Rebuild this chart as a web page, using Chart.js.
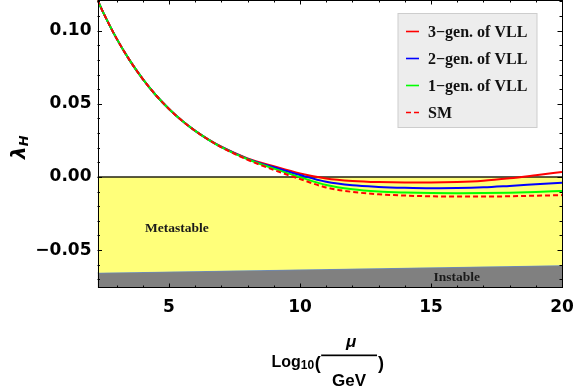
<!DOCTYPE html>
<html><head><meta charset="utf-8">
<script src="https://cdn.jsdelivr.net/npm/chart.js@4.4.0/dist/chart.umd.min.js"></script>
<style>html,body{margin:0;padding:0;background:#fff}</style>
</head><body>
<canvas id="c" width="576" height="389"></canvas>
<script>
// ---- data ----
const xMin = 2.27, xMax = 20;
const yMin = -0.0759, yMax = 0.121;
const xValues = [2.27, 2.5, 3, 3.5, 4, 4.5, 5, 5.5, 6, 6.5, 7, 8, 9, 10, 11, 12, 13, 14, 15, 16, 17, 18, 19, 20];
const gen3 = [0.121, 0.1120, 0.0946, 0.0797, 0.0669, 0.0559, 0.0465, 0.0384, 0.0315, 0.0257, 0.0207, 0.0127, 0.0073, 0.0024, -0.0010, -0.0027, -0.0035, -0.0038, -0.0038, -0.0035, -0.0026, -0.0009, 0.0012, 0.0034];
const gen2 = [0.121, 0.1120, 0.0946, 0.0797, 0.0669, 0.0559, 0.0465, 0.0384, 0.0315, 0.0256, 0.0205, 0.0124, 0.0066, 0.0013, -0.0033, -0.0057, -0.0068, -0.0074, -0.0077, -0.0076, -0.0071, -0.0061, -0.0050, -0.0039];
const gen1 = [0.121, 0.1120, 0.0946, 0.0797, 0.0669, 0.0559, 0.0465, 0.0384, 0.0315, 0.0256, 0.0204, 0.0121, 0.0057, -0.0001, -0.0055, -0.0084, -0.0099, -0.0106, -0.0110, -0.0111, -0.0110, -0.0107, -0.0102, -0.0095];
const smVals = [0.121, 0.1120, 0.0946, 0.0797, 0.0669, 0.0559, 0.0465, 0.0384, 0.0315, 0.0255, 0.0203, 0.0118, 0.0048, -0.0014, -0.0072, -0.0102, -0.0118, -0.0127, -0.0132, -0.0134, -0.0134, -0.0132, -0.0128, -0.0124];
const instableEdge = [-0.0655, -0.0604]; // at xMin, xMax
const xTicks = [5, 10, 15, 20];
const yTicks = [-0.05, 0, 0.05, 0.10];
const legendLabels = ['3\u2212gen. of VLL', '2\u2212gen. of VLL', '1\u2212gen. of VLL', 'SM'];
const regionLabels = [{text: 'Metastable', x: 5.3, y: -0.0355}, {text: 'Instable', x: 15.98, y: -0.0686}];

const pts = arr => xValues.map((x, i) => ({x, y: arr[i]}));
const lineDs = (label, arr, color, order, dash) => ({
  label, data: pts(arr), borderColor: color, borderWidth: 2, borderDash: dash || [],
  pointRadius: 0, cubicInterpolationMode: 'monotone', fill: false, order
});

const frameTicks = {
  id: 'frameTicks',
  afterDatasetsDraw(chart) {
    const {ctx, chartArea: a, scales: {x, y}} = chart;
    ctx.save();
    ctx.strokeStyle = '#000';
    ctx.lineWidth = 1;
    ctx.strokeRect(Math.round(a.left) + 0.5, Math.round(a.top) + 0.5, Math.round(a.right - a.left) - 1, Math.round(a.bottom - a.top) - 1);
    ctx.beginPath();
    for (let v = 3; v <= 19; v++) {
      const major = v % 5 === 0;
      const L = major ? 4.5 : 2.5;
      const px = Math.round(x.getPixelForValue(v)) + 0.5;
      ctx.moveTo(px, a.bottom); ctx.lineTo(px, a.bottom - L);
      ctx.moveTo(px, a.top); ctx.lineTo(px, a.top + L);
    }
    for (let k = -7; k <= 12; k++) {
      const v = k / 100;
      const major = k % 5 === 0;
      const L = major ? 4.5 : 2.5;
      const py = Math.round(y.getPixelForValue(v)) + 0.5;
      if (py < a.top || py > a.bottom) continue;
      ctx.moveTo(a.left, py); ctx.lineTo(a.left + L, py);
      ctx.moveTo(a.right, py); ctx.lineTo(a.right - L, py);
    }
    ctx.stroke();
    // region labels
    ctx.fillStyle = '#1a1a1a';
    ctx.font = 'bold 13.5px "Liberation Serif", serif';
    ctx.textAlign = 'center';
    ctx.textBaseline = 'middle';
    regionLabels.forEach(r => ctx.fillText(r.text, x.getPixelForValue(r.x), y.getPixelForValue(r.y)));
    ctx.restore();
  },
  afterDraw(chart) {
    const {ctx, chartArea: a} = chart;
    ctx.save();
    // legend
    const bx = a.right - 164, by = a.top + 13.5, bw = 139, bh = 114;
    ctx.fillStyle = '#ededed';
    ctx.fillRect(bx, by, bw, bh);
    ctx.strokeStyle = '#cdcdcd';
    ctx.lineWidth = 1;
    ctx.strokeRect(bx, by, bw, bh);
    const ds = [chart.data.datasets[3], chart.data.datasets[2], chart.data.datasets[1], chart.data.datasets[0]];
    ctx.font = 'bold 16px "Liberation Serif", serif';
    ctx.textAlign = 'left';
    ctx.textBaseline = 'middle';
    legendLabels.forEach((t, i) => {
      const yy = by + 18 + i * 27;
      ctx.strokeStyle = ds[i].borderColor;
      ctx.lineWidth = 1.6;
      ctx.setLineDash(i === 3 ? [5, 3] : []);
      ctx.beginPath(); ctx.moveTo(bx + 8, yy); ctx.lineTo(bx + 21, yy); ctx.stroke();
      ctx.setLineDash([]);
      ctx.fillStyle = '#111';
      ctx.fillText(t, bx + 30, yy + 1);
    });
    // y title: lambda_H
    ctx.fillStyle = '#000';
    ctx.save();
    ctx.translate(25, 159);
    ctx.rotate(-Math.PI / 2);
    ctx.textAlign = 'left';
    ctx.textBaseline = 'alphabetic';
    ctx.font = 'bold italic 20px "DejaVu Sans", sans-serif';
    ctx.fillText('\u03bb', 0, 0);
    const lw = ctx.measureText('\u03bb').width;
    ctx.font = 'bold italic 13px "DejaVu Sans", sans-serif';
    ctx.fillText('H', lw, 3);
    ctx.restore();
    // x title: Log10(mu/GeV)
    ctx.textBaseline = 'alphabetic';
    ctx.textAlign = 'left';
    let cx = 271.5;
    const base = 366.5;
    ctx.font = 'bold 16px "Liberation Sans", Arial, sans-serif';
    ctx.fillText('Log', cx, base); cx += ctx.measureText('Log').width;
    ctx.font = 'bold 12px "Liberation Sans", Arial, sans-serif';
    ctx.fillText('10', cx, base + 2); cx += ctx.measureText('10').width + 0.5;
    ctx.font = 'bold 18px "Liberation Sans", Arial, sans-serif';
    ctx.fillText('(', cx, base + 2); cx += ctx.measureText('(').width + 0.5;
    const fx0 = cx, fx1 = 377;
    ctx.fillRect(fx0, 354.5, fx1 - fx0, 1.7);
    const fc = (fx0 + fx1) / 2;
    ctx.textAlign = 'center';
    ctx.font = 'bold italic 17px "Liberation Sans", Arial, sans-serif';
    ctx.fillText('\u03bc', fc + 2, 347);
    ctx.font = 'bold 17px "Liberation Sans", Arial, sans-serif';
    ctx.fillText('GeV', fc, 386);
    ctx.textAlign = 'left';
    ctx.font = 'bold 18px "Liberation Sans", Arial, sans-serif';
    ctx.fillText(')', fx1 + 1, base + 2);
    ctx.restore();
  }
};

new Chart(document.getElementById('c'), {
  type: 'line',
  data: {
    datasets: [
      lineDs('SM', smVals, '#ff0000', 1, [5, 3]),
      lineDs('1-gen. of VLL', gen1, '#00ff00', 2),
      lineDs('2-gen. of VLL', gen2, '#0000ff', 3),
      lineDs('3-gen. of VLL', gen3, '#ff0000', 4),
      {label: 'zero', data: [{x: xMin, y: 0}, {x: xMax, y: 0}], borderColor: '#222211', borderWidth: 1.5,
       pointRadius: 0, fill: {target: 5}, backgroundColor: 'rgb(255,255,122)', order: 5},
      {label: 'instable', data: [{x: xMin, y: instableEdge[0]}, {x: xMax, y: instableEdge[1]}], borderColor: '#6a8cc0', borderWidth: 1.2,
       pointRadius: 0, fill: 'start', backgroundColor: '#808080', order: 6}
    ]
  },
  options: {
    responsive: false,
    animation: false,
    devicePixelRatio: 1,
    layout: {padding: {left: 0, right: 14, top: 0, bottom: 0}},
    plugins: {legend: {display: false}, tooltip: {enabled: false}},
    scales: {
      x: {
        type: 'linear', min: xMin, max: xMax,
        afterFit: s => { s.height = 101; s.paddingLeft = 0; s.paddingRight = 0; },
        afterBuildTicks: s => { s.ticks = xTicks.map(v => ({value: v})); },
        grid: {display: false, drawTicks: false},
        border: {display: false},
        ticks: {color: '#000', padding: 9, maxRotation: 0, autoSkip: false,
                font: {family: '"DejaVu Sans", sans-serif', weight: 'bold', size: 17},
                callback: v => String(v)}
      },
      y: {
        type: 'linear', min: yMin, max: yMax,
        afterFit: s => { s.width = 97.5; s.paddingTop = 0; s.paddingBottom = 0; },
        afterBuildTicks: s => { s.ticks = yTicks.map(v => ({value: v})); },
        grid: {display: false, drawTicks: false},
        border: {display: false},
        ticks: {color: '#000', padding: 6, autoSkip: false,
                font: {family: '"DejaVu Sans", sans-serif', weight: 'bold', size: 17},
                callback: v => (v < -1e-9 ? '\u2212' : '') + Math.abs(v).toFixed(2)}
      }
    }
  },
  plugins: [frameTicks]
});
</script>
</body></html>
